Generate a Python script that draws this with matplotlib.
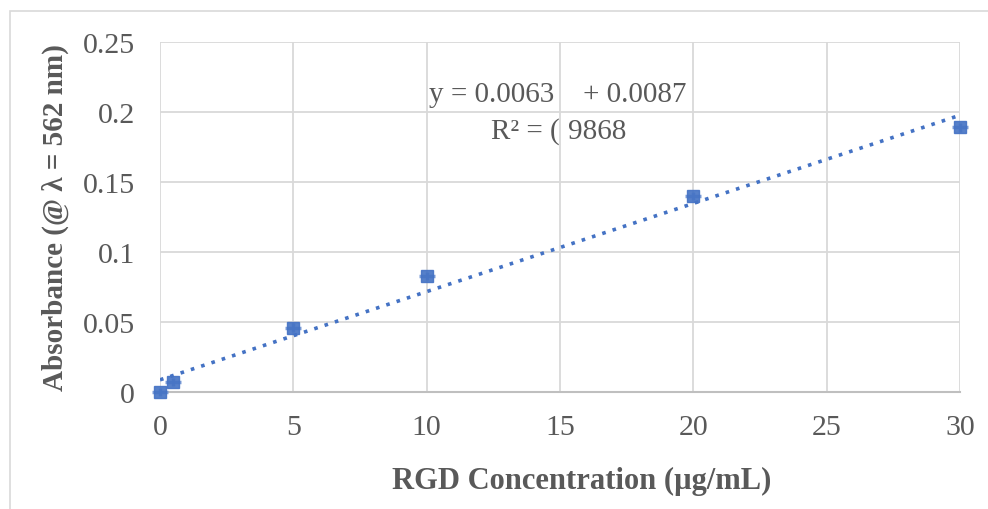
import numpy as np
import matplotlib
matplotlib.use("Agg")
import matplotlib.pyplot as plt
from matplotlib.patches import Rectangle

conc = [0, 0.5, 5, 10, 20, 30]
absorb = [0.0, 0.007, 0.046, 0.083, 0.140, 0.189]
slope = 0.0063
intercept = 0.0087
xticks = [0, 5, 10, 15, 20, 25, 30]
yticks = [0, 0.05, 0.1, 0.15, 0.2, 0.25]
ytick_labels = ["0", "0.05", "0.1", "0.15", "0.2", "0.25"]

plt.rcParams['font.family'] = ['Liberation Serif', 'DejaVu Serif']

fig = plt.figure(figsize=(9.88, 5.10), dpi=100)
fig.patches.append(Rectangle((10 / 988, -0.01), 1.0, 1 - 12 / 510 + 0.01,
                             transform=fig.transFigure, fill=False,
                             edgecolor="#d9d9d9", linewidth=1.2))
ax = fig.add_axes([160 / 988, 117 / 510, 800 / 988, 350 / 510])

grid_c = "#d9d9d9"
for sp in ["top", "right", "left"]:
    ax.spines[sp].set_visible(False)
ax.spines["bottom"].set_color("#bfbfbf")
ax.spines["bottom"].set_linewidth(1.5)
ax.set_xlim(0, 30)
ax.set_ylim(0, 0.25)
ax.set_xticks(xticks)
ax.set_yticks(yticks)
ax.set_yticklabels(ytick_labels)
ax.grid(True, color=grid_c, linewidth=1.3)
ax.set_axisbelow(True)
ax.tick_params(length=0, labelsize=21.5, labelcolor="#595959")
ax.tick_params(axis="x", pad=16)
ax.tick_params(axis="y", pad=18)

# trendline
xs = np.array([0, 30])
ax.plot(xs, slope * xs + intercept, linestyle=(0, (1, 2.0)), color="#4472c4",
        linewidth=2.6, zorder=3)

# markers with small cross bars
ax.errorbar(conc, absorb, xerr=0.3, yerr=0.003, fmt="s", markersize=8.5,
            color="#4472c4", ecolor="#6f93d3", elinewidth=2.5, capsize=0,
            alpha=0.9, clip_on=False, zorder=4)

ax.set_xlabel("RGD Concentration (µg/mL)", fontsize=22, fontweight="bold",
              color="#595959")
ax.xaxis.set_label_coords(0.5275, -0.212)
ax.set_ylabel("Absorbance (@ λ = 562 nm)", fontsize=21, fontweight="bold",
              color="#595959", labelpad=10)

tc = "#595959"
ax.text(14.8, 0.2125, "y = 0.0063", fontsize=21, color=tc, ha="right", va="center")
ax.text(15.85, 0.2125, "+ 0.0087", fontsize=21, color=tc, ha="left", va="center")
ax.text(14.98, 0.1865, "R² = (", fontsize=21, color=tc, ha="right", va="center")
ax.text(15.3, 0.1865, "9868", fontsize=21, color=tc, ha="left", va="center")

fig.savefig("out.png", dpi=100)
